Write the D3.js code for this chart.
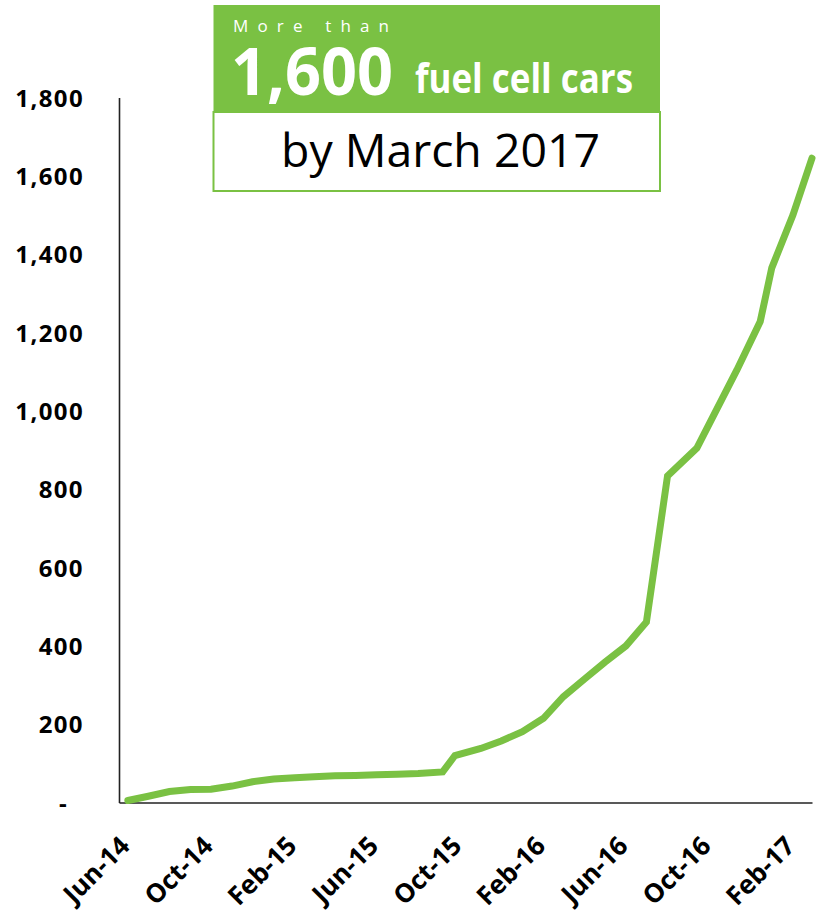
<!DOCTYPE html>
<html>
<head>
<meta charset="utf-8">
<script src="https://cdn.jsdelivr.net/npm/d3@7/dist/d3.min.js"></script>
<style>
  html, body { margin: 0; padding: 0; background: #fff; }
  svg { display: block; }
  text { font-family: "Open Sans", "Noto Sans", sans-serif; }
</style>
</head>
<body>
<svg id="chart" width="817" height="916"></svg>
<script>
// ---- data ----
const dates = [
  "2014-06-01","2014-07-01","2014-08-01","2014-09-01","2014-10-01","2014-11-01","2014-12-01",
  "2015-01-01","2015-02-01","2015-03-01","2015-04-01","2015-05-01","2015-06-01","2015-07-01",
  "2015-08-01","2015-09-06","2015-09-24","2015-11-01","2015-12-01","2016-01-01","2016-02-01",
  "2016-03-01","2016-04-01","2016-05-01","2016-06-01","2016-07-01","2016-08-01","2016-09-13",
  "2016-11-11","2016-12-15","2017-01-01","2017-02-01","2017-03-01"
];
const cars = [
  5, 16, 28, 33, 34, 42, 53,
  60, 63, 66, 68, 69, 71, 72,
  74, 78, 120, 138, 157, 181, 215,
  270, 315, 358, 400, 461, 834, 905,
  1105, 1228, 1365, 1500, 1645
];
const yTicks = [0, 200, 400, 600, 800, 1000, 1200, 1400, 1600, 1800];
const xTickDates = ["2014-06-01","2014-10-01","2015-02-01","2015-06-01","2015-10-01",
                    "2016-02-01","2016-06-01","2016-10-01","2017-02-01"];
const titleLines = ["More than", "1,600", "fuel cell cars", "by March 2017"];

// ---- drawing ----
const parse = d3.timeParse("%Y-%m-%d");
const fmtX = d3.timeFormat("%b-%y");
const fmtY = v => v === 0 ? "-" : d3.format(",")(v);
const green = "#7AC143";

const svg = d3.select("#chart");
const m = { left: 119, right: 812, top: 97.5, bottom: 802.5 };

const x = d3.scaleTime()
  .domain([parse("2014-05-19"), parse("2017-03-01")])
  .range([m.left, m.right]);
const y = d3.scaleLinear().domain([0, 1800]).range([m.bottom, m.top]);

const data = dates.map((d, i) => ({ date: parse(d), value: cars[i] }));

// Y axis
const yAxis = d3.axisLeft(y).tickValues(yTicks).tickSize(0).tickPadding(0).tickFormat(fmtY);
const gy = svg.append("g").attr("transform", `translate(${m.left},0)`).call(yAxis);
gy.select(".domain").attr("stroke", "#222").attr("stroke-width", 1.6);
gy.selectAll(".tick text")
  .attr("x", d => d === 0 ? -51 : -35)
  .attr("dy", "0.36em")
  .attr("fill", "#000")
  .style("font-size", "24px")
  .style("font-weight", "700")
  .style("letter-spacing", "1.4px");

// X axis
const xAxis = d3.axisBottom(x).tickValues(xTickDates.map(parse)).tickSize(0).tickFormat(fmtX);
const gx = svg.append("g").attr("transform", `translate(0,${m.bottom})`).call(xAxis);
gx.select(".domain").attr("stroke", "#222").attr("stroke-width", 1.6);
gx.selectAll(".tick text")
  .attr("text-anchor", "end")
  .attr("fill", "#000")
  .attr("x", 0).attr("y", 0).attr("dy", 0)
  .attr("transform", "translate(3,45) rotate(-45)")
  .style("font-size", "26px")
  .style("font-weight", "700");

// Line
const line = d3.line().x(d => x(d.date)).y(d => y(d.value));
svg.append("path")
  .datum(data)
  .attr("fill", "none")
  .attr("stroke", green)
  .attr("stroke-width", 7)
  .attr("stroke-linejoin", "miter")
  .attr("stroke-linecap", "round")
  .attr("d", line);

// Title box
const box = svg.append("g");
box.append("rect").attr("x", 213.5).attr("y", 5).attr("width", 446.5).attr("height", 107)
  .attr("fill", green);
box.append("rect").attr("x", 213.5).attr("y", 112).attr("width", 446.5).attr("height", 79)
  .attr("fill", "#fff").attr("stroke", green).attr("stroke-width", 2);

box.append("text").attr("x", 233).attr("y", 32)
  .attr("fill", "#fff").style("font-size", "17px")
  .attr("textLength", 156).attr("lengthAdjust", "spacing")
  .text(titleLines[0]);
box.append("text").attr("x", 231).attr("y", 95)
  .attr("fill", "#fff").style("font-size", "67px").style("font-weight", "700")
  .attr("textLength", 162).attr("lengthAdjust", "spacingAndGlyphs")
  .text(titleLines[1]);
box.append("text").attr("x", 415).attr("y", 93)
  .attr("fill", "#fff").style("font-size", "41px").style("font-weight", "700")
  .attr("textLength", 218).attr("lengthAdjust", "spacingAndGlyphs")
  .text(titleLines[2]);
box.append("text").attr("x", 281).attr("y", 167)
  .attr("fill", "#000").style("font-size", "45px")
  .attr("textLength", 319).attr("lengthAdjust", "spacingAndGlyphs")
  .text(titleLines[3]);
</script>
</body>
</html>
